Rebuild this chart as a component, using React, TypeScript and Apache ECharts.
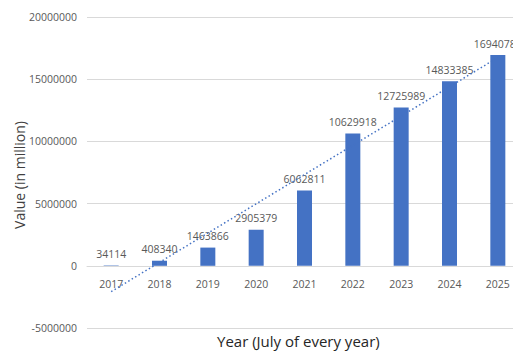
import React, { useEffect, useRef } from "react";
import * as echarts from "echarts";

const years = ["2017", "2018", "2019", "2020", "2021", "2022", "2023", "2024", "2025"];
const values = [34114, 408340, 1463866, 2905379, 6062811, 10629918, 12725989, 14833385, 16940780];
const yTitle = "Value (in million)";
const xTitle = "Year (July of every year)";

// Linear trendline (least squares fit of the values), drawn from first to last category
function trendEnds(v: number[]): [number, number] {
  const n = v.length;
  const xs = v.map((_, i) => i + 1);
  const mx = xs.reduce((a, b) => a + b, 0) / n;
  const my = v.reduce((a, b) => a + b, 0) / n;
  let num = 0, den = 0;
  for (let i = 0; i < n; i++) {
    num += (xs[i] - mx) * (v[i] - my);
    den += (xs[i] - mx) * (xs[i] - mx);
  }
  const slope = num / den;
  const icpt = my - slope * mx;
  return [icpt + slope * 1, icpt + slope * n];
}

export default function App() {
  const ref = useRef<HTMLDivElement>(null);
  useEffect(() => {
    document.body.style.margin = "0";
    const chart = echarts.init(ref.current!, null, { renderer: "svg" });
    const [t0, t1] = trendEnds(values);
    const trend = years.map((_, i) => (i === 0 ? t0 : i === years.length - 1 ? t1 : null));
    const font = "'Open Sans', 'Liberation Sans', sans-serif";
    chart.setOption({
      animation: false,
      textStyle: { fontFamily: font },
      grid: {
        left: 87,
        top: 17,
        width: 435,
        height: 311,
        containLabel: false,
        outerBoundsMode: "none",
      },
      xAxis: {
        type: "category",
        data: years,
        offset: -62,
        axisLine: { onZero: false, lineStyle: { color: "#d9d9d9", width: 1 } },
        axisTick: { show: false },
        axisLabel: { color: "#595959", fontSize: 10.5, margin: 12, fontFamily: font },
        z: 3,
      },
      yAxis: {
        type: "value",
        min: -5000000,
        max: 20000000,
        interval: 5000000,
        axisLine: { show: false },
        axisTick: { show: false },
        splitLine: { lineStyle: { color: "#d9d9d9", width: 1 } },
        axisLabel: {
          color: "#595959",
          fontSize: 10.5,
          margin: 10,
          fontFamily: font,
          formatter: (v: number) => String(v),
        },
      },
      series: [
        {
          type: "bar",
          data: values,
          barWidth: 15,
          itemStyle: { color: "#4472C4" },
          label: {
            show: true,
            position: "top",
            distance: 6,
            color: "#595959",
            fontSize: 10.5,
            fontFamily: font,
          },
        },
        {
          type: "line",
          data: trend,
          connectNulls: true,
          symbol: "none",
          lineStyle: { color: "#4472C4", width: 1.5, type: [1.5, 2.5] },
          z: 4,
        },
      ],
      graphic: [
        {
          type: "text",
          left: 217,
          top: 333,
          style: {
            text: xTitle,
            fill: "#262626",
            fontSize: 15,
            fontFamily: font,
          },
        },
        {
          type: "text",
          x: 19,
          y: 175,
          rotation: Math.PI / 2,
          style: {
            text: yTitle,
            fill: "#404040",
            fontSize: 14,
            fontFamily: font,
            align: "center",
            verticalAlign: "middle",
          },
        },
      ],
    });
    return () => chart.dispose();
  }, []);
  return <div ref={ref} style={{ width: 513, height: 356 }} />;
}
